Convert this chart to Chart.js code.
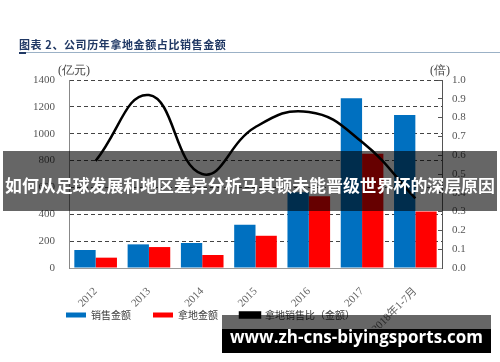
<!DOCTYPE html>
<html lang="zh">
<head>
<meta charset="UTF-8">
<title>公司历年拿地金额占比销售金额</title>
<script src="https://cdn.jsdelivr.net/npm/chart.js"></script>
<style>
  body { margin: 0; background: #fff; }
  #wrap { position: relative; width: 500px; height: 362px; overflow: hidden; font-family: "Noto Sans CJK SC", sans-serif; }
  #chart { position: absolute; left: 0; top: 0; }
  .abs { position: absolute; white-space: nowrap; }
  #title { left: 19px; top: 36px; font-size: 11px; font-weight: bold; color: #203864; letter-spacing: 0.6px; line-height: 16px; }
  #rule { left: 19px; top: 52px; width: 481px; height: 1px; background: #9bb1c6; }
  #rule2 { left: 19px; top: 52px; width: 7px; height: 2px; background: #203864; }
  .unit { top: 62px; font-size: 12px; color: #444; font-family: "Liberation Serif", serif; line-height: 16px; }
  #banner { left: 3px; top: 151px; width: 494px; height: 60px; background: rgba(0,0,0,0.6); }
  #banner span { position: absolute; left: 0; width: 494px; top: 24px; text-align: center; color: #fff; font-weight: bold; font-size: 16.9px; line-height: 20px; }
  #mark1 { left: 222px; top: 315px; width: 269px; height: 14px; background: rgba(0,0,0,0.6); }
  #mark2 { left: 222px; top: 329px; width: 269px; height: 24px; background: #000; }
  #mark2 span { position: absolute; left: 0; width: 269px; top: -4px; text-align: center; color: #fff; font-weight: bold; font-size: 17px; line-height: 24px; font-family: "Open Sans", sans-serif; }
</style>
</head>
<body>
<div id="wrap">
  <canvas id="chart" width="500" height="362"></canvas>
  <div id="title" class="abs">图表 2、公司历年拿地金额占比销售金额</div>
  <div id="rule" class="abs"></div>
  <div id="rule2" class="abs"></div>
  <div class="abs unit" style="left:58px">(亿元)</div>
  <div class="abs unit" style="left:430px">(倍)</div>
  <div id="banner" class="abs"><span>如何从足球发展和地区差异分析马其顿未能晋级世界杯的深层原因</span></div>
  <div id="mark1" class="abs"></div>
  <div id="mark2" class="abs"><span>www.zh-cns-biyingsports.com</span></div>
</div>
<script>
  const years = ['2012', '2013', '2014', '2015', '2016', '2017', '2018年1-7月'];
  const sales = [134, 176, 186, 322, 565, 1265, 1140];
  const land = [77, 156, 97, 240, 535, 850, 420];
  const ratio = [0.57, 0.92, 0.50, 0.75, 0.83, 0.67, 0.37];

  const tickFont = { family: '"Liberation Serif", "Noto Sans CJK SC", serif', size: 11 };

  // move the legend to where the reference has it
  const legendSpot = {
    id: 'legendSpot',
    beforeDraw(chart) {
      chart.legend.left = 44;
      chart.legend.top = 288;
    }
  };

  new Chart(document.getElementById('chart'), {
    type: 'bar',
    data: {
      labels: years,
      datasets: [
        { label: '销售金额', data: sales, backgroundColor: '#0070c0', order: 1, yAxisID: 'y' },
        { label: '拿地金额', data: land, backgroundColor: '#ff0000', order: 1, yAxisID: 'y' },
        { label: '拿地销售比（金额）', type: 'line', data: ratio, borderColor: '#000', backgroundColor: '#000',
          borderWidth: 2.5, pointRadius: 0, tension: 0.45, order: 0, yAxisID: 'y1' }
      ]
    },
    plugins: [legendSpot],
    options: {
      responsive: false,
      animation: false,
      layout: { padding: { left: 20, right: 0, top: 80, bottom: 24 } },
      datasets: { bar: { categoryPercentage: 0.8, barPercentage: 1.0 } },
      plugins: {
        tooltip: { enabled: false },
        legend: {
          position: 'bottom',
          align: 'start',
          maxHeight: 10,
          labels: {
            boxWidth: 20, boxHeight: 5, padding: 22, color: '#404040',
            font: { family: '"Noto Sans CJK SC", sans-serif', size: 10 },
            sort: (a, b) => a.datasetIndex - b.datasetIndex
          }
        }
      },
      scales: {
        x: {
          grid: { display: false },
          border: { color: '#999' },
          ticks: { color: '#666', font: tickFont, minRotation: 45, maxRotation: 45, padding: 9 },
          afterFit: s => { s.height = 60; }
        },
        y: {
          min: 0, max: 1400,
          ticks: { stepSize: 200, color: '#555', font: tickFont, padding: 14, callback: v => String(v) },
          grid: { color: '#444', drawTicks: false },
          border: { color: '#888', dash: [4, 3] },
          afterFit: s => { s.width = 49; }
        },
        y1: {
          position: 'right',
          min: 0, max: 1,
          ticks: { stepSize: 0.1, color: '#555', font: tickFont, padding: 14, callback: v => v.toFixed(1) },
          grid: { drawOnChartArea: false, drawTicks: true, tickLength: -4, color: '#555' },
          border: { color: '#555' },
          afterFit: s => { s.width = 58; }
        }
      }
    }
  });
</script>
</body>
</html>
